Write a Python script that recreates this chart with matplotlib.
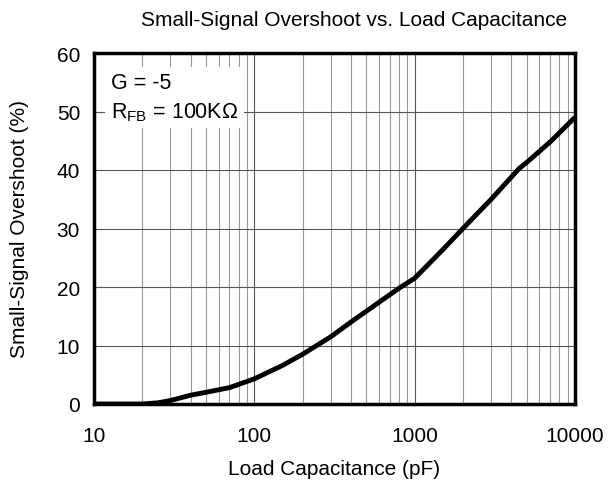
import matplotlib
matplotlib.use('Agg')
import matplotlib.pyplot as plt
from matplotlib.ticker import LogLocator, NullFormatter, FixedLocator

plt.rcParams['font.family'] = ['Liberation Sans', 'DejaVu Sans']

# load capacitance (pF) vs small-signal overshoot (%)
cap = [10, 15, 20, 25, 30, 40, 50, 70, 100, 150, 200, 300, 400, 600, 800, 1000, 1500, 2000, 3000, 4500, 5000, 7000, 10000]
overshoot = [0, 0, 0, 0.2, 0.6, 1.5, 2.0, 2.8, 4.3, 6.6, 8.5, 11.5, 14.0, 17.4, 19.8, 21.5, 26.4, 30.0, 35.0, 40.3, 41.3, 44.8, 49.0]

fig = plt.figure(figsize=(6.08, 4.81), dpi=100)
ax = fig.add_axes([94/608, 1-405/481, (575-94)/608, (405-54)/481])

ax.set_xscale('log')
ax.set_xlim(10, 10000)
ax.set_ylim(0, 60)
ax.set_yticks(range(0, 61, 10))
ax.xaxis.set_major_locator(FixedLocator([10, 100, 1000, 10000]))
ax.set_xticklabels(['10', '100', '1000', '10000'])
ax.xaxis.set_minor_locator(LogLocator(base=10, subs=range(2, 10)))
ax.xaxis.set_minor_formatter(NullFormatter())

ax.grid(True, which='major', color='#555555', lw=0.8)
ax.grid(True, which='minor', axis='x', color='#999999', lw=0.8)
ax.tick_params(which='both', length=0, labelsize=15)
ax.tick_params(axis='y', pad=10)
ax.tick_params(axis='x', pad=16)

ax.plot(cap, overshoot, color='black', lw=3.5, solid_capstyle='butt')

for s in ax.spines.values():
    s.set_linewidth(2.5)

ax.text(0.035, 0.945, 'G = -5\nR$_{\\mathregular{FB}}$ = 100K\u03a9', transform=ax.transAxes,
        fontsize=15.5, va='top', ha='left', linespacing=1.4,
        bbox=dict(facecolor='white', edgecolor='none', pad=4))

ax.set_title('Small-Signal Overshoot vs. Load Capacitance', fontsize=15, pad=20, x=0.54)
ax.set_xlabel('Load Capacitance (pF)', fontsize=15, labelpad=10)
ax.set_ylabel('Small-Signal Overshoot (%)', fontsize=15, labelpad=20)

fig.savefig('out.png', dpi=100)
